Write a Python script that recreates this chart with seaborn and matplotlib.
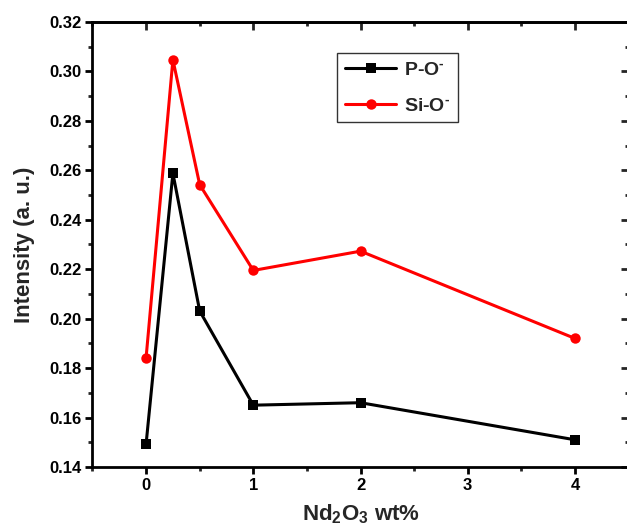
import matplotlib
matplotlib.use("Agg")
import matplotlib.pyplot as plt
import seaborn as sns
import pandas as pd
from matplotlib.ticker import MultipleLocator, FormatStrFormatter

x_values = [0, 0.25, 0.5, 1, 2, 4]
p_o = [0.1493, 0.2588, 0.2031, 0.1650, 0.1660, 0.1510]
si_o = [0.1842, 0.3047, 0.2542, 0.2195, 0.2273, 0.1920]
series_names = [r"P-O$^{\text{-}}$", r"Si-O$^{\text{-}}$"]

sns.set_theme(style="ticks")
plt.rcParams["font.family"] = ["Liberation Sans", "DejaVu Sans"]
plt.rcParams["font.weight"] = "bold"
plt.rcParams["mathtext.fontset"] = "custom"
plt.rcParams["mathtext.rm"] = "Liberation Sans:bold"
plt.rcParams["mathtext.bf"] = "Liberation Sans:bold"
plt.rcParams["mathtext.it"] = "Liberation Sans:bold"

df = pd.DataFrame({
    "x": x_values * 2,
    "y": p_o + si_o,
    "series": [series_names[0]] * len(x_values) + [series_names[1]] * len(x_values),
})

fig = plt.figure(figsize=(6.27, 5.26), dpi=100)
ax = fig.add_axes([0.1475, 0.1122, 0.855, 0.846])

sns.lineplot(data=df, x="x", y="y", hue="series", style="series",
             palette={series_names[0]: "black", series_names[1]: "red"},
             markers={series_names[0]: "s", series_names[1]: "o"},
             dashes=False, linewidth=2.2, markersize=7.5, markeredgewidth=0,
             ax=ax)
for line in ax.lines:
    if line.get_marker() == "s":
        line.set_markersize(7)

ax.set_xlim(-0.5, 4.5)
ax.set_ylim(0.14, 0.32)
ax.xaxis.set_major_locator(MultipleLocator(1))
ax.xaxis.set_minor_locator(MultipleLocator(0.5))
ax.yaxis.set_major_locator(MultipleLocator(0.02))
ax.yaxis.set_minor_locator(MultipleLocator(0.01))
ax.yaxis.set_major_formatter(FormatStrFormatter("%.2f"))

for s in ax.spines.values():
    s.set_linewidth(2)
    s.set_color("black")

ax.tick_params(axis="both", which="major", direction="out", length=5, width=2,
               labelsize=12, colors="black", pad=3)
ax.tick_params(axis="both", which="minor", direction="out", length=3, width=2)
ax.tick_params(axis="x", which="both", top=False)
ax.tick_params(axis="y", which="both", right=False)

ax2 = ax.secondary_xaxis("top")
ax2.xaxis.set_major_locator(MultipleLocator(1))
ax2.xaxis.set_minor_locator(MultipleLocator(0.5))
ax2.tick_params(axis="x", which="major", direction="in", length=6, width=2, labeltop=False)
ax2.tick_params(axis="x", which="minor", direction="in", length=3, width=2)
ax2.spines["top"].set_linewidth(2)
ax3 = ax.secondary_yaxis("right")
ax3.yaxis.set_major_locator(MultipleLocator(0.02))
ax3.yaxis.set_minor_locator(MultipleLocator(0.01))
ax3.tick_params(axis="y", which="major", direction="in", length=6, width=2, labelright=False)
ax3.tick_params(axis="y", which="minor", direction="in", length=3, width=2)
ax3.spines["right"].set_linewidth(2)

for lab in ax.get_xticklabels() + ax.get_yticklabels():
    lab.set_fontweight("bold")

ax.set_xlabel(r"Nd$_\mathbf{2}$O$_\mathbf{3}$ wt%", fontsize=16, fontweight="bold", labelpad=7)
ax.set_ylabel("Intensity (a. u.)", fontsize=16, fontweight="bold", labelpad=10)

leg = ax.legend(loc="upper left", bbox_to_anchor=(0.457, 0.93), fontsize=14,
                frameon=True, fancybox=False, edgecolor="black", handlelength=2.6,
                borderpad=0.4, labelspacing=0.95, handletextpad=0.4,
                borderaxespad=0)
leg.get_frame().set_linewidth(1)
for t in leg.get_texts():
    t.set_fontweight("bold")

fig.savefig("out.png", dpi=100)
